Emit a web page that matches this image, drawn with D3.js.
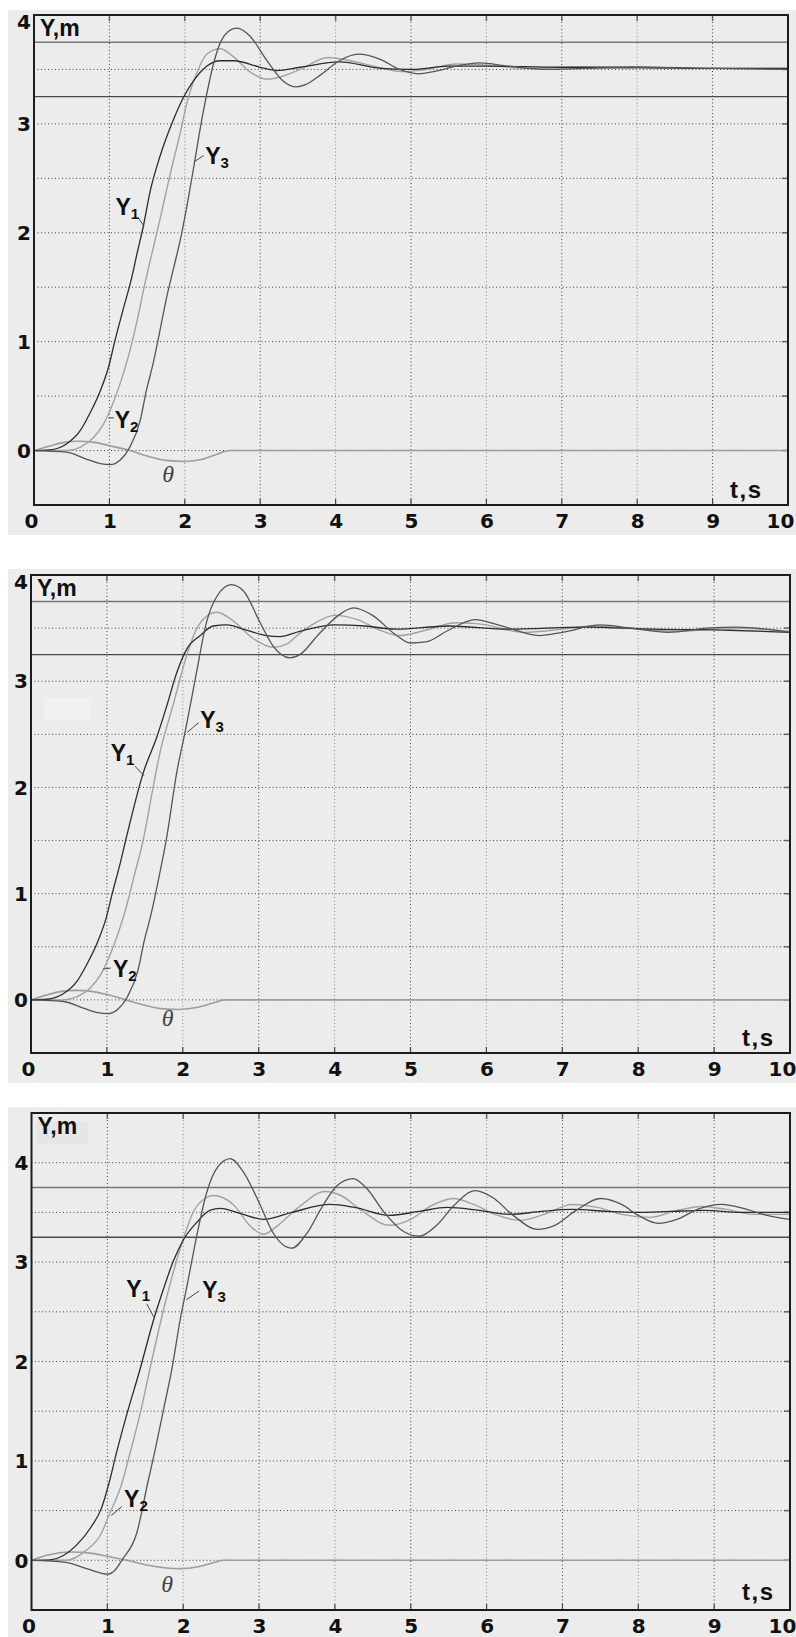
<!DOCTYPE html>
<html>
<head>
<meta charset="utf-8">
<script src="https://cdn.jsdelivr.net/npm/d3@7"></script>
<style>
  body { margin: 0; background: #fff; }
  svg { display: block; }
  .lab { font-family: "Liberation Sans", Arial, sans-serif; font-weight: bold; fill: #111; }
  .num { font-family: "DejaVu Sans", sans-serif; font-weight: bold; fill: #111; }
  .theta { font-family: "Liberation Serif", "Times New Roman", serif; font-style: italic; fill: #444; }
</style>
</head>
<body>
<svg id="chart" width="796" height="1637"></svg>
<script>
// ---- data ----
const tTicks = [0, 1, 2, 3, 4, 5, 6, 7, 8, 9, 10]
const yTicksAB = [0, 1, 2, 3, 4]
const bandLines = [3.25, 3.75]

// panel 1
const p1Y1 = [[0,0],[0.21,0.006],[0.43,0.06],[0.61,0.18],[0.74,0.34],[0.88,0.55],[0.99,0.77],[1.07,1.0],[1.18,1.29],[1.3,1.6],[1.37,1.82],[1.45,2.06],[1.54,2.38],[1.67,2.7],[1.85,3.04],[1.98,3.24],[2.11,3.39],[2.29,3.53],[2.47,3.58],[2.65,3.58],[3.0,3.52],[3.22,3.49],[3.53,3.52],[4.05,3.57],[4.6,3.51],[5.0,3.5],[5.5,3.53],[6.0,3.53],[7,3.52],[8,3.52],[9,3.51],[10,3.51]]
const p1Y2 = [[0,0],[0.43,0],[0.61,0.03],[0.79,0.12],[0.92,0.24],[1.01,0.37],[1.14,0.61],[1.25,0.86],[1.36,1.17],[1.47,1.53],[1.56,1.8],[1.67,2.12],[1.8,2.52],[1.94,2.92],[2.03,3.2],[2.16,3.47],[2.29,3.64],[2.47,3.69],[2.64,3.62],[2.86,3.48],[3.09,3.41],[3.31,3.44],[3.53,3.5],[3.9,3.61],[4.2,3.58],[4.5,3.53],[4.9,3.48],[5.2,3.5],[5.6,3.55],[6.0,3.54],[6.5,3.51],[7.3,3.52],[8,3.51],[9,3.51],[10,3.51]]
const p1Y3 = [[0,0],[0.43,-0.015],[0.7,-0.08],[0.88,-0.12],[1.01,-0.13],[1.14,-0.09],[1.27,0.03],[1.41,0.28],[1.49,0.55],[1.58,0.8],[1.67,1.1],[1.76,1.41],[1.85,1.67],[1.96,2.0],[2.05,2.33],[2.13,2.65],[2.21,2.98],[2.29,3.27],[2.38,3.55],[2.48,3.76],[2.58,3.85],[2.69,3.88],[2.86,3.81],[3.09,3.58],[3.31,3.39],[3.48,3.34],[3.6,3.36],[3.8,3.45],[4.05,3.58],[4.3,3.64],[4.6,3.59],[4.85,3.5],[5.1,3.46],[5.3,3.48],[5.6,3.53],[5.9,3.56],[6.3,3.53],[6.8,3.5],[7.3,3.51],[8,3.52],[9,3.51],[10,3.5]]
const p1Theta = [[0,0],[0.2,0.04],[0.4,0.075],[0.57,0.086],[0.8,0.075],[1.0,0.045],[1.27,0],[1.5,-0.05],[1.75,-0.09],[2.0,-0.1],[2.2,-0.085],[2.4,-0.04],[2.6,0],[3,0],[10,0]]

// panel 2
const p2Y1 = [[0,0],[0.21,0.006],[0.43,0.06],[0.61,0.18],[0.74,0.34],[0.88,0.55],[0.99,0.77],[1.07,1.0],[1.18,1.3],[1.25,1.51],[1.48,2.14],[1.66,2.48],[1.79,2.77],[1.92,3.08],[2.05,3.3],[2.23,3.43],[2.4,3.52],[2.58,3.53],[2.84,3.48],[3.1,3.43],[3.28,3.42],[3.54,3.47],[4.0,3.53],[4.4,3.52],[4.8,3.49],[5.5,3.52],[6.3,3.49],[7.3,3.51],[8.2,3.49],[9.2,3.48],[10,3.46]]
const p2Y2 = [[0,0],[0.43,0],[0.61,0.03],[0.79,0.12],[0.92,0.24],[1.01,0.37],[1.14,0.61],[1.25,0.86],[1.36,1.17],[1.48,1.51],[1.59,1.93],[1.7,2.33],[1.87,2.77],[2.05,3.24],[2.18,3.49],[2.31,3.61],[2.45,3.65],[2.66,3.57],[2.93,3.4],[3.19,3.32],[3.37,3.35],[3.54,3.45],[3.8,3.57],[4.0,3.62],[4.3,3.58],[4.6,3.48],[4.85,3.43],[5.2,3.48],[5.6,3.55],[5.9,3.54],[6.5,3.46],[7.0,3.49],[7.4,3.52],[8.0,3.49],[8.5,3.47],[9.2,3.5],[10,3.47]]
const p2Y3 = [[0,0],[0.43,-0.015],[0.7,-0.08],[0.88,-0.12],[1.01,-0.13],[1.14,-0.09],[1.27,0.03],[1.41,0.28],[1.49,0.55],[1.58,0.8],[1.67,1.1],[1.79,1.54],[1.92,2.14],[2.03,2.52],[2.18,3.08],[2.31,3.55],[2.45,3.8],[2.64,3.91],[2.8,3.85],[3.02,3.55],[3.19,3.33],[3.41,3.22],[3.54,3.25],[3.8,3.45],[4.05,3.62],[4.25,3.69],[4.5,3.62],[4.8,3.44],[5.0,3.36],[5.2,3.37],[5.5,3.48],[5.85,3.58],[6.2,3.52],[6.7,3.43],[7.0,3.46],[7.5,3.53],[7.9,3.5],[8.4,3.46],[8.9,3.5],[9.3,3.51],[10,3.46]]
const p2Theta = [[0,0],[0.2,0.045],[0.4,0.08],[0.6,0.09],[0.8,0.08],[1.0,0.05],[1.25,0],[1.5,-0.05],[1.75,-0.085],[1.95,-0.09],[2.2,-0.07],[2.4,-0.03],[2.55,0],[3,0],[10,0]]

// panel 3
const p3Y1 = [[0,0],[0.25,0.005],[0.59,0.15],[0.79,0.34],[0.92,0.52],[1.02,0.77],[1.12,1.08],[1.25,1.45],[1.43,1.92],[1.61,2.42],[1.74,2.73],[1.87,3.01],[2.0,3.22],[2.18,3.4],[2.35,3.52],[2.49,3.54],[2.75,3.49],[3.06,3.43],[3.43,3.5],[3.94,3.58],[4.26,3.55],[4.72,3.47],[5.11,3.51],[5.48,3.55],[5.9,3.52],[6.31,3.48],[6.72,3.51],[7.13,3.53],[7.59,3.51],[7.96,3.5],[8.42,3.51],[8.88,3.52],[9.34,3.5],[10,3.5]]
const p3Y2 = [[0,0],[0.45,0],[0.72,0.1],[0.92,0.27],[1.02,0.45],[1.19,0.77],[1.31,1.11],[1.44,1.5],[1.56,1.92],[1.69,2.36],[1.87,2.9],[2.0,3.23],[2.13,3.5],[2.31,3.65],[2.4,3.67],[2.66,3.58],[2.9,3.35],[3.06,3.28],[3.25,3.37],[3.52,3.55],[3.87,3.71],[4.08,3.67],[4.35,3.52],[4.72,3.37],[5.0,3.43],[5.28,3.57],[5.56,3.64],[5.83,3.58],[6.11,3.48],[6.44,3.42],[6.76,3.48],[7.13,3.58],[7.46,3.55],[7.78,3.48],[8.15,3.45],[8.51,3.52],[8.84,3.56],[9.16,3.53],[9.52,3.48],[10,3.48]]
const p3Y3 = [[0,0],[0.45,-0.02],[0.75,-0.09],[1.0,-0.14],[1.1,-0.1],[1.19,0],[1.39,0.28],[1.53,0.77],[1.63,1.11],[1.75,1.55],[1.85,1.92],[1.96,2.42],[2.05,2.76],[2.18,3.27],[2.31,3.7],[2.44,3.94],[2.62,4.04],[2.79,3.91],[3.0,3.6],[3.18,3.3],[3.43,3.14],[3.64,3.3],[3.82,3.54],[4.03,3.77],[4.24,3.84],[4.42,3.74],[4.65,3.5],[4.88,3.32],[5.11,3.26],[5.34,3.37],[5.57,3.57],[5.85,3.72],[6.08,3.65],[6.35,3.47],[6.67,3.33],[6.9,3.37],[7.18,3.52],[7.5,3.64],[7.78,3.58],[8.0,3.47],[8.26,3.39],[8.51,3.43],[8.78,3.53],[9.1,3.58],[9.43,3.53],[9.7,3.47],[10,3.43]]
const p3Theta = [[0,0],[0.2,0.05],[0.52,0.084],[0.8,0.07],[1.0,0.04],[1.26,0],[1.5,-0.045],[1.75,-0.075],[1.96,-0.084],[2.2,-0.065],[2.4,-0.025],[2.53,0],[3,0],[10,0]]

// curve labels: text anchor [t, v] and leader line [[t,v],[t,v]]
const p1Labels = [
  { name: "Y", sub: "1", at: [1.08, 2.16], lead: [[1.38, 2.14], [1.46, 2.06]] },
  { name: "Y", sub: "3", at: [2.27, 2.63], lead: [[2.12, 2.65], [2.25, 2.71]] },
  { name: "Y", sub: "2", at: [1.07, 0.21], lead: [[0.99, 0.3], [1.06, 0.3]] }
]
const p2Labels = [
  { name: "Y", sub: "1", at: [1.05, 2.25], lead: [[1.37, 2.2], [1.49, 2.11]] },
  { name: "Y", sub: "3", at: [2.23, 2.56], lead: [[2.06, 2.52], [2.21, 2.61]] },
  { name: "Y", sub: "2", at: [1.08, 0.22], lead: [[0.95, 0.29], [1.05, 0.3]] }
]
const p3Labels = [
  { name: "Y", sub: "1", at: [1.25, 2.65], lead: [[1.52, 2.58], [1.61, 2.45]] },
  { name: "Y", sub: "3", at: [2.25, 2.64], lead: [[2.04, 2.62], [2.21, 2.71]] },
  { name: "Y", sub: "2", at: [1.22, 0.54], lead: [[1.05, 0.45], [1.19, 0.54]] }
]
const thetaAt = [[1.78, -0.29], [1.8, -0.25], [1.79, -0.32]]

// ---- layout ----
const svg = d3.select("#chart")

const panels = [
  { bg: [8, 10, 788, 525], box: [34, 15, 788, 505], yDomain: [-0.5, 4], yTicks: yTicksAB,
    series: { Y1: p1Y1, Y2: p1Y2, Y3: p1Y3, theta: p1Theta }, labels: p1Labels, theta: thetaAt[0], ts: [730, 498] },
  { bg: [8, 569, 788, 514], box: [31, 575, 790, 1053], yDomain: [-0.5, 4], yTicks: yTicksAB,
    series: { Y1: p2Y1, Y2: p2Y2, Y3: p2Y3, theta: p2Theta }, labels: p2Labels, theta: thetaAt[1], ts: [742, 1046],
    ghost: [43, 697, 49, 24] },
  { bg: [8, 1107, 788, 530], box: [31.5, 1113, 790, 1610], yDomain: [-0.5, 4.5], yTicks: yTicksAB,
    series: { Y1: p3Y1, Y2: p3Y2, Y3: p3Y3, theta: p3Theta }, labels: p3Labels, theta: thetaAt[2], ts: [742, 1600],
    ymBox: [37, 1122, 51, 22] }
]

const style = {
  theta: { color: "#9d9d9d", w: 1.6 },
  Y2: { color: "#a2a2a2", w: 1.4 },
  Y1: { color: "#2c2c2c", w: 1.3 },
  Y3: { color: "#555", w: 1.3 }
}

panels.forEach(drawPanel)

function drawPanel(p) {
  let g = svg.append("g")
  let [x0, y0, x1, y1] = p.box

  g.append("rect").attr("x", p.bg[0]).attr("y", p.bg[1])
    .attr("width", p.bg[2]).attr("height", p.bg[3]).attr("fill", "#ececec")

  let x = d3.scaleLinear().domain([0, 10]).range([x0, x1])
  let y = d3.scaleLinear().domain(p.yDomain).range([y1, y0])

  if (p.ghost) {
    g.append("rect").attr("x", p.ghost[0]).attr("y", p.ghost[1])
      .attr("width", p.ghost[2]).attr("height", p.ghost[3])
      .attr("fill", "#f1f1f1").attr("stroke", "#e9e9e9")
  }
  if (p.ymBox) {
    g.append("rect").attr("x", p.ymBox[0]).attr("y", p.ymBox[1])
      .attr("width", p.ymBox[2]).attr("height", p.ymBox[3]).attr("fill", "#e6e6e6")
  }

  // dotted grid
  let yGrid = d3.range(p.yDomain[0] + 0.5, p.yDomain[1], 0.5)
  g.selectAll(".gy").data(yGrid).join("line")
    .attr("x1", x0).attr("x2", x1)
    .attr("y1", d => y(d)).attr("y2", d => y(d))
    .attr("stroke", "#444").attr("stroke-width", 1).attr("stroke-dasharray", "1,2.5")
  g.selectAll(".gx").data(tTicks.slice(1, -1)).join("line")
    .attr("x1", d => x(d)).attr("x2", d => x(d))
    .attr("y1", y0).attr("y2", y1)
    .attr("stroke", (d, i) => i % 2 ? "#888" : "#444").attr("stroke-width", 1).attr("stroke-dasharray", "1,2.5")

  // inner tick marks
  let tickX = tTicks.slice(1, -1)
  g.selectAll(".tt").data(tickX).join("line")
    .attr("x1", d => x(d)).attr("x2", d => x(d)).attr("y1", y0).attr("y2", y0 + 6)
    .attr("stroke", "#666").attr("stroke-width", 1.5)
  g.selectAll(".tb").data(tickX).join("line")
    .attr("x1", d => x(d)).attr("x2", d => x(d)).attr("y1", y1).attr("y2", y1 - 6)
    .attr("stroke", "#444").attr("stroke-width", 1.2)
  g.selectAll(".tr").data(yGrid).join("line")
    .attr("x1", x1).attr("x2", x1 - 6).attr("y1", d => y(d)).attr("y2", d => y(d))
    .attr("stroke", "#666").attr("stroke-width", 1.5)

  // band lines
  g.selectAll(".band").data(bandLines).join("line")
    .attr("x1", x0).attr("x2", x1)
    .attr("y1", d => y(d)).attr("y2", d => y(d))
    .attr("stroke", (d, i) => i === 0 ? "#4a4a4a" : "#777").attr("stroke-width", 1.4)

  // curves
  let line = d3.line().x(d => x(d[0])).y(d => y(d[1])).curve(d3.curveMonotoneX)
  let clip = "clip" + Math.round(y0)
  svg.append("clipPath").attr("id", clip).append("rect")
    .attr("x", x0).attr("y", y0).attr("width", x1 - x0).attr("height", y1 - y0)
  let curves = g.append("g").attr("clip-path", `url(#${clip})`)
  for (let key of ["theta", "Y2", "Y1", "Y3"]) {
    curves.append("path").datum(p.series[key])
      .attr("d", line)
      .attr("fill", "none")
      .attr("stroke", style[key].color)
      .attr("stroke-width", style[key].w)
  }

  // frame
  g.append("rect").attr("x", x0).attr("y", y0)
    .attr("width", x1 - x0).attr("height", y1 - y0)
    .attr("fill", "none").attr("stroke", "#1c1c1c").attr("stroke-width", 2)

  // axis labels
  let xAxis = d3.axisBottom(x).tickValues(tTicks).tickSize(0).tickPadding(0).tickFormat(d3.format("d"))
  let ax = g.append("g").attr("transform", `translate(0,${y1})`).call(xAxis)
  ax.select(".domain").remove()
  ax.selectAll("text")
    .attr("class", "num").attr("font-size", 20).attr("y", 23).attr("dy", null)
    .attr("dx", d => d === 0 ? -3 : d === 10 ? -8 : 0)

  let yAxis = d3.axisLeft(y).tickValues(p.yTicks).tickSize(0).tickPadding(3).tickFormat(d3.format("d"))
  let ay = g.append("g").attr("transform", `translate(${x0},0)`).call(yAxis)
  ay.select(".domain").remove()
  ay.selectAll(".tick").attr("transform", d => `translate(0,${Math.max(y(d), y0 + 7)})`)
  ay.selectAll("text").attr("class", "num").attr("font-size", 20).attr("dy", "0.36em")

  g.append("text").attr("class", "lab").attr("font-size", 23)
    .attr("x", x0 + 6).attr("y", y0 + 21).text("Y,m")
  g.append("text").attr("class", "lab").attr("font-size", 24).attr("letter-spacing", 1.5)
    .attr("x", p.ts[0]).attr("y", p.ts[1]).text("t,s")

  // curve labels
  for (let l of p.labels) {
    g.append("line")
      .attr("x1", x(l.lead[0][0])).attr("y1", y(l.lead[0][1]))
      .attr("x2", x(l.lead[1][0])).attr("y2", y(l.lead[1][1]))
      .attr("stroke", "#444").attr("stroke-width", 1)
    let t = g.append("text").attr("class", "lab").attr("font-size", 23)
      .attr("x", x(l.at[0])).attr("y", y(l.at[1]))
    t.append("tspan").text(l.name)
    t.append("tspan").attr("font-size", 15).attr("dy", 4).text(l.sub)
  }
  g.append("text").attr("class", "theta").attr("font-size", 24)
    .attr("text-anchor", "middle")
    .attr("x", x(p.theta[0])).attr("y", y(p.theta[1])).text("θ")
}
</script>
</body>
</html>
